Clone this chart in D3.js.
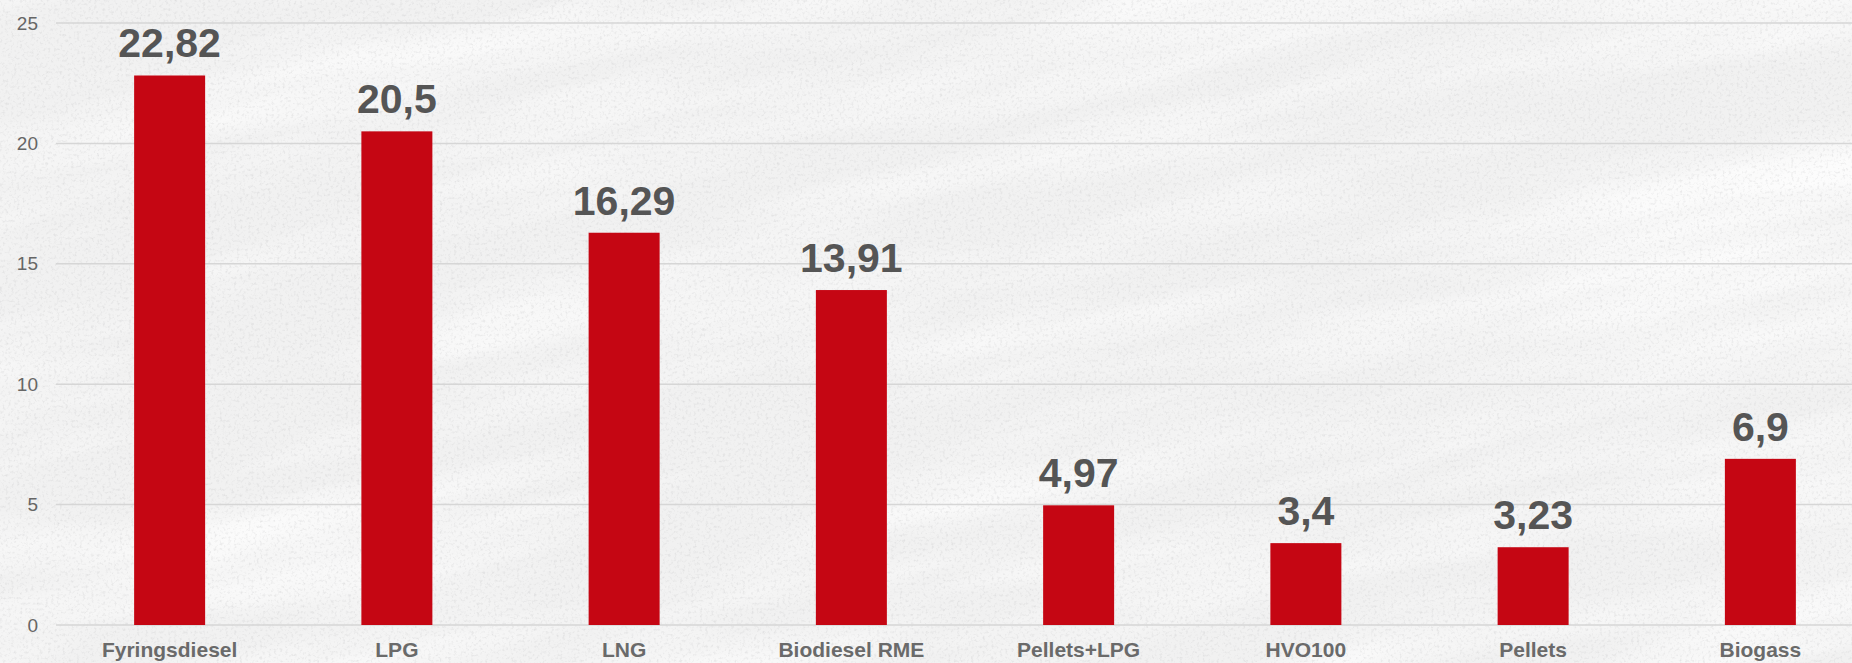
<!DOCTYPE html>
<html>
<head>
<meta charset="utf-8">
<script src="https://cdn.jsdelivr.net/npm/d3@7/dist/d3.min.js"></script>
<style>
  html, body { margin: 0; padding: 0; background: #f4f4f4; }
  svg { display: block; }
</style>
</head>
<body>
<svg id="chart" width="1852" height="663"></svg>
<script>
// Fuel types and their values
const categories = ["Fyringsdiesel", "LPG", "LNG", "Biodiesel RME", "Pellets+LPG", "HVO100", "Pellets", "Biogass"];
const values = [22.82, 20.5, 16.29, 13.91, 4.97, 3.4, 3.23, 6.9];
const valueLabels = ["22,82", "20,5", "16,29", "13,91", "4,97", "3,4", "3,23", "6,9"];
const yTicks = [0, 5, 10, 15, 20, 25];

const W = 1852, H = 663;
const svg = d3.select("#chart");
const defs = svg.append("defs");

// Paper-like background: soft grain plus faint diagonal streaks
const grain = defs.append("filter").attr("id", "grain")
  .attr("x", 0).attr("y", 0).attr("width", "100%").attr("height", "100%");
grain.append("feTurbulence").attr("type", "fractalNoise")
  .attr("baseFrequency", "0.35").attr("numOctaves", 3).attr("seed", 7);
grain.append("feColorMatrix").attr("type", "matrix")
  .attr("values", "0 0 0 0 0.55  0 0 0 0 0.55  0 0 0 0 0.56  0 0 0 -1.6 0.78");
grain.append("feGaussianBlur").attr("stdDeviation", 0.7);

const streaks = defs.append("filter").attr("id", "streaks")
  .attr("x", 0).attr("y", 0).attr("width", "100%").attr("height", "100%");
streaks.append("feTurbulence").attr("type", "fractalNoise")
  .attr("baseFrequency", "0.002 0.015").attr("numOctaves", 4).attr("seed", 3);
streaks.append("feColorMatrix").attr("type", "matrix")
  .attr("values", "0 0 0 0 1  0 0 0 0 1  0 0 0 0 1  0 0 0 -2.0 1.2");

svg.append("rect").attr("width", W).attr("height", H).attr("fill", "#f1f1f1");
svg.append("g").attr("transform", `rotate(-12 ${W / 2} ${H / 2})`)
  .append("rect").attr("x", -300).attr("y", -400).attr("width", W + 600).attr("height", H + 800)
  .attr("filter", "url(#streaks)").attr("opacity", 0.8);
svg.append("rect").attr("width", W).attr("height", H).attr("filter", "url(#grain)").attr("opacity", 0.55);

// Scales
const x = d3.scaleBand()
  .domain(categories)
  .range([56, 1874])
  .paddingInner(0.6876)
  .paddingOuter(0.3438);

const y = d3.scaleLinear().domain([0, 25]).range([625, 23]);

const font = "'Liberation Sans', Arial, Helvetica, sans-serif";

// Horizontal gridlines
svg.append("g").selectAll("line").data(yTicks).join("line")
  .attr("x1", 56).attr("x2", W)
  .attr("y1", d => y(d)).attr("y2", d => y(d))
  .attr("stroke", "#d6d6d6").attr("stroke-width", 1.5);

// Y axis tick labels
const yAxis = d3.axisLeft(y).tickValues(yTicks).tickSize(0).tickPadding(0).tickFormat(d3.format("d"));
const yg = svg.append("g").attr("transform", "translate(38,0)").call(yAxis);
yg.select(".domain").remove();
yg.selectAll("text")
  .attr("font-family", font).attr("font-size", 19).attr("fill", "#666666");

// Bars
svg.append("g").selectAll("rect").data(values).join("rect")
  .attr("x", (d, i) => x(categories[i]))
  .attr("width", x.bandwidth())
  .attr("y", d => y(d))
  .attr("height", d => y(0) - y(d))
  .attr("fill", "#c50613");

// Value labels
svg.append("g").selectAll("text").data(values).join("text")
  .attr("x", (d, i) => x(categories[i]) + x.bandwidth() / 2)
  .attr("y", d => y(d) - 18)
  .attr("text-anchor", "middle")
  .attr("font-family", font).attr("font-weight", "bold").attr("font-size", 41)
  .attr("fill", "#555555")
  .text((d, i) => valueLabels[i]);

// Category axis labels
const xAxis = d3.axisBottom(x).tickSize(0).tickPadding(0);
const xg = svg.append("g").attr("transform", "translate(0,625)").call(xAxis);
xg.select(".domain").remove();
xg.selectAll("text")
  .attr("dy", null).attr("y", 32)
  .attr("font-family", font).attr("font-weight", "bold").attr("font-size", 21)
  .attr("fill", "#6a6a6a");
</script>
</body>
</html>
